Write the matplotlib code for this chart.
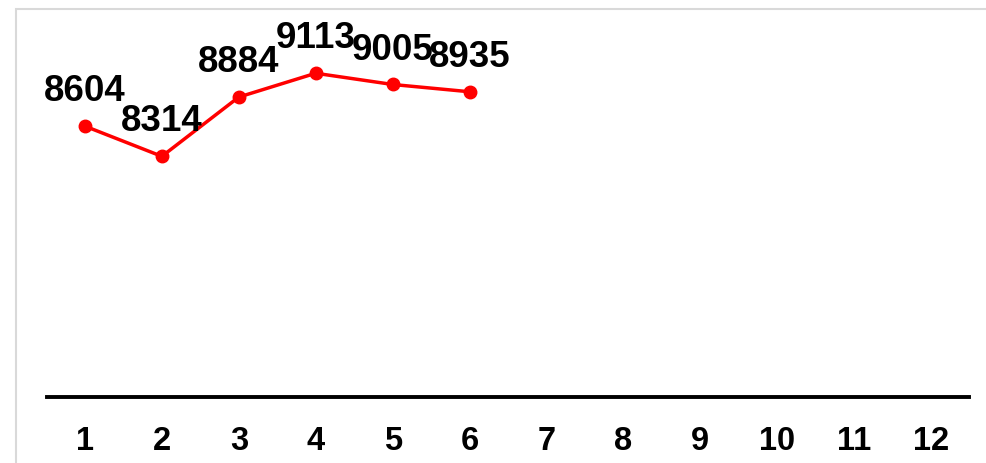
import matplotlib.pyplot as plt
from matplotlib import font_manager
from matplotlib.patches import Rectangle

# data
months = list(range(1, 13))
values = [8604, 8314, 8884, 9113, 9005, 8935]

names = {f.name for f in font_manager.fontManager.ttflist}
label_font = 'Liberation Sans' if 'Liberation Sans' in names else 'DejaVu Sans'

fig = plt.figure(figsize=(9.86, 4.64), dpi=100)
ax = fig.add_axes([46.5 / 986, 66 / 464, 923 / 986, (398 - 34) / 464])

# light grey frame of the chart area (cut off at right and bottom)
fig.patches.append(Rectangle((16 / 986, -0.1), 1.2, (464 - 10) / 464 + 0.1,
                             transform=fig.transFigure, fill=False,
                             edgecolor='#d9d9d9', linewidth=1.5))

ax.plot(months[:len(values)], values, color='#ff0000', linewidth=2.5,
        marker='o', markersize=9, zorder=3)

for x, v in zip(months, values):
    ax.annotate(f"{v}", (x, v), xytext=(0, 25.5), textcoords='offset points',
                ha='center', va='center', fontsize=26.5, fontweight='bold',
                family=label_font, color='black')

ax.set_xlim(0.5, 12.5)
ax.set_ylim(6000, 9500)
ax.set_xticks(months)
ax.set_xticklabels([str(m) for m in months], fontsize=23.5, fontweight='bold',
                   family=label_font)
ax.tick_params(axis='x', length=0, pad=20)
ax.set_yticks([])
for s in ['top', 'right', 'left']:
    ax.spines[s].set_visible(False)
ax.spines['bottom'].set_linewidth(2.8)
ax.spines['bottom'].set_color('black')
ax.patch.set_visible(False)

fig.savefig("out.png", dpi=100)
